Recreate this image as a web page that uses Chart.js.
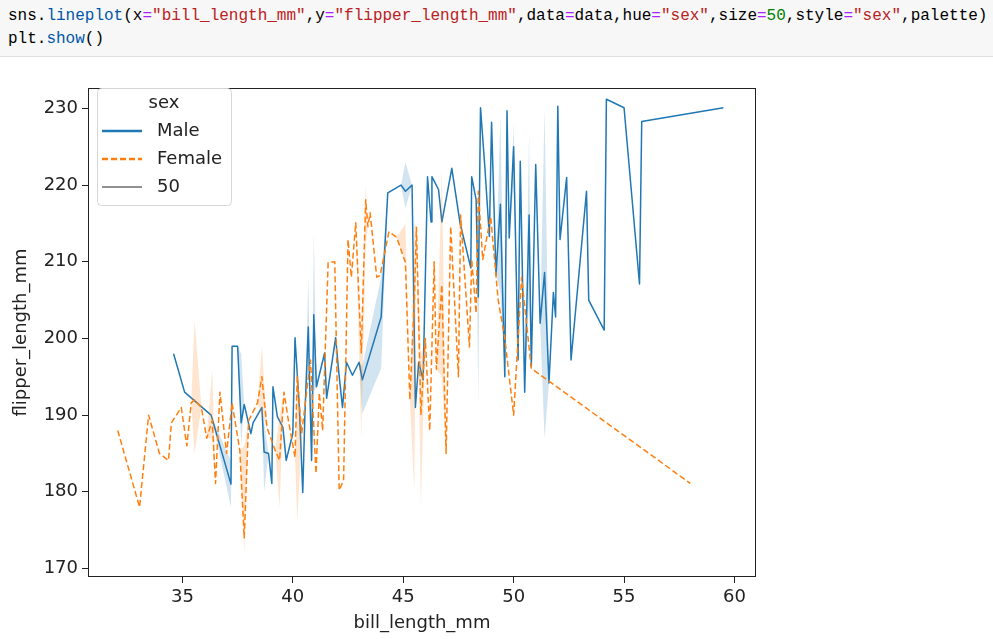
<!DOCTYPE html>
<html><head><meta charset="utf-8">
<script src="https://cdn.jsdelivr.net/npm/chart.js@4.4.1/dist/chart.umd.min.js"></script>
<style>
html,body{margin:0;padding:0;background:#fff;}
#wrap{position:relative;width:993px;height:639px;overflow:hidden;background:#fff;}
#code{position:absolute;left:0;top:0;width:993px;height:57px;background:#f7f7f7;border-bottom:1px solid #e0e0e0;box-sizing:border-box;padding:5px 0 0 8px;font-family:"Liberation Mono","DejaVu Sans Mono",monospace;font-size:16px;line-height:23px;white-space:pre;color:#000;z-index:2;}
.p{color:#0055aa}.o{color:#aa22ff}.s{color:#ba2121}.n{color:#008000}
#c{position:absolute;left:0;top:0;}
</style></head><body>
<div id="wrap">
<div id="code">sns.<span class="p">lineplot</span>(x<span class="o">=</span><span class="s">"bill_length_mm"</span>,y<span class="o">=</span><span class="s">"flipper_length_mm"</span>,data<span class="o">=</span>data,hue<span class="o">=</span><span class="s">"sex"</span>,size<span class="o">=</span><span class="n">50</span>,style<span class="o">=</span><span class="s">"sex"</span>,palette)
plt.<span class="p">show</span>()</div>
<canvas id="c" width="993" height="639"></canvas>
</div>
<script>
// ---- data ----
const maleX  = [34.6,35.1,36.3,37.2,37.25,37.5,37.66,37.8,38.1,38.2,38.6,38.7,38.9,39.05,39.1,39.3,39.55,39.7,40.0,40.1,40.3,40.45,40.55,40.7,40.85,40.95,41.07,41.44,41.53,41.94,42.07,42.25,42.43,42.7,43.0,43.15,44.0,44.3,44.9,45.1,45.4,45.55,45.7,45.9,46.1,46.26,46.3,46.6,46.75,47.2,47.57,48.06,48.1,48.3,48.4,48.5,48.7,48.9,49.0,49.2,49.4,49.6,49.7,49.8,50.0,50.2,50.3,50.5,50.7,50.8,51.0,51.2,51.4,51.6,51.8,51.9,52.0,52.1,52.4,52.6,53.3,53.4,54.1,54.2,55.0,55.7,55.8,59.5];
const maleY  = [198,193,190,181,199,199,189,191.4,187.6,189,191,185.2,185,181.1,193.7,189.8,188.4,184.1,187.6,200.1,190.7,179.9,190.3,201.5,184.1,203.1,193.7,198.1,192.2,200.1,195.9,191,196.9,195.2,196.9,194.6,202.8,219,220,219.2,220,191,196.9,194.6,221.1,215.2,221.1,219.4,215.2,222.2,215.1,209.2,221.1,218.1,205.4,230.1,222.2,213.3,228.2,208.3,217.5,195,229.7,213.1,225,197.2,223.1,193,216.1,196.3,222.7,202,208.6,194.2,206,202.8,230.3,212.9,221,197.2,219.2,205,201.1,231.2,230.1,207.1,228.3,230.1];
const maleLo = [198,193,190,178,199,199,186,191.4,187.6,189,191,180,185,181.1,193.7,189.8,188.4,184.1,187.6,200.1,190.7,179.9,190.3,196,184.1,193,193.7,198.1,192.2,200.1,195.9,191,196.9,195.2,196.9,190.2,196.1,219,220,217,220,191,196.9,194.6,221.1,215.2,221.1,219.4,215.2,222.2,215.1,209.2,221.1,218.1,191,230.1,222.2,213.3,228.2,208.3,206,195,229.7,213.1,220,197.2,223.1,193,205,196.3,222.7,202,187,194.2,206,202.8,230.3,212.9,221,197.2,219.2,205,201.1,231.2,230.1,207.1,228.3,230.1];
const maleHi = [198,193,190,184,199,199,198,191.4,187.6,189,191,189,185,181.1,193.7,189.8,188.4,184.1,187.6,200.1,190.7,179.9,190.3,208,184.1,214,193.7,198.1,192.2,200.1,195.9,191,196.9,195.2,196.9,196.4,208,219,220,223,220,191,196.9,194.6,221.1,215.2,221.1,219.4,215.2,222.2,215.1,209.2,221.1,218.1,214,230.1,222.2,213.3,228.2,208.3,229,195,229.7,213.1,228,197.2,223.1,193,227,196.3,222.7,202,230,194.2,206,202.8,230.3,212.9,221,197.2,219.2,205,201.1,231.2,230.1,207.1,228.3,230.1];

const femaleX  = [32.07,33.06,33.47,33.96,34.37,34.5,34.95,35.2,35.4,35.55,35.86,36.1,36.35,36.5,36.7,37.0,37.25,37.6,37.8,38.0,38.4,38.6,38.83,39.2,39.4,39.6,39.8,40.1,40.2,40.4,40.8,41.05,41.2,41.35,41.6,41.9,42.1,42.3,42.5,42.65,42.85,43.1,43.3,43.4,43.5,43.8,43.95,44.35,44.7,45.1,45.3,45.5,45.6,45.8,46.0,46.2,46.4,46.5,46.75,46.94,47.15,47.5,47.6,48.0,48.1,48.3,48.4,48.6,48.96,49.3,49.6,50.0,50.36,50.8,58.0];
const femaleY  = [188,178,190,185,184.1,189,191,186,191.6,192,191,187,189.3,181.1,193,185,191.6,185.4,174,189.3,191.6,195,188.4,185.4,184.1,193,189.3,184.5,195,187.6,197.2,182.4,192.9,188,209.9,210,180.2,181.5,212.9,208,215.1,198.1,218.1,214.6,216.4,208,208.2,213.9,213.2,209.9,192,205,214.5,190,200,188,210,196,207,185,214.6,195,216.1,198.9,210.3,203.3,219.2,210.3,215.9,205,200,190,208,196.1,181.1];
const femaleLo = [188,178,190,185,184.1,189,191,186,191.6,185,191,187,187,181.1,193,185,191.6,185.4,172,189.3,191.6,190,188.4,185.4,178,193,189.3,184.5,176,187.6,197.2,182.4,192.9,188,209.9,210,180.2,181.5,212.9,208,215.1,187,212,214.6,216.4,208,208.2,213.9,213.2,209.9,192,180,214.5,178,200,188,210,196,195,185,214.6,195,216.1,198.9,210.3,203.3,219.2,210.3,215.9,205,200,190,208,196.1,181.1];
const femaleHi = [188,178,190,185,184.1,189,191,186,191.6,202.4,191,187,196,181.1,193,185,191.6,185.4,186,189.3,191.6,199,188.4,185.4,190,193,189.3,184.5,197,187.6,197.2,182.4,192.9,188,209.9,210,180.2,181.5,212.9,208,215.1,200,220,214.6,216.4,208,208.2,213.9,213.2,215,192,215,214.5,198,200,188,210,196,222,185,214.6,195,216.1,198.9,210.3,203.3,219.2,210.3,215.9,205,200,190,208,196.1,181.1];

const xTicks = [35,40,45,50,55,60];
const yTicks = [170,180,190,200,210,220,230];
const xTitle = 'bill_length_mm';
const yTitle = 'flipper_length_mm';
const legendTitle = 'sex';
const legendLabels = ['Male','Female','50'];

// ---- chart ----
const BLUE = '#1f77b4', ORANGE = '#ff7f0e';
const FONT = 'DejaVu Sans';
const pts = (xs, ys) => xs.map((x, i) => ({x: x, y: ys[i]}));

const framePlugin = {
  id: 'frame',
  afterDraw(chart) {
    const {ctx, chartArea: a} = chart;
    ctx.save();
    ctx.strokeStyle = '#222';
    ctx.lineWidth = 1;
    ctx.strokeRect(a.left + 0.5, a.top + 0.5, a.right - a.left - 1, a.bottom - a.top - 1);
    ctx.restore();
  }
};

const legendPlugin = {
  id: 'seabornLegend',
  afterDraw(chart) {
    const ctx = chart.ctx;
    ctx.save();
    const x0 = 97.5, y0 = 88.5, w = 134, h = 117, r = 4;
    ctx.beginPath();
    ctx.moveTo(x0 + r, y0);
    ctx.arcTo(x0 + w, y0, x0 + w, y0 + h, r);
    ctx.arcTo(x0 + w, y0 + h, x0, y0 + h, r);
    ctx.arcTo(x0, y0 + h, x0, y0, r);
    ctx.arcTo(x0, y0, x0 + w, y0, r);
    ctx.closePath();
    ctx.fillStyle = 'rgba(255,255,255,0.8)';
    ctx.fill();
    ctx.strokeStyle = '#d6d6d6';
    ctx.lineWidth = 1;
    ctx.stroke();
    ctx.fillStyle = '#222';
    ctx.font = '18px "' + FONT + '"';
    ctx.textBaseline = 'middle';
    ctx.textAlign = 'center';
    ctx.fillText(legendTitle, 164, 103);
    ctx.textAlign = 'left';
    const rows = [
      {y: 131, color: BLUE, width: 2.5, dash: []},
      {y: 159, color: ORANGE, width: 2.5, dash: [6, 3]},
      {y: 187, color: '#222', width: 1, dash: []}
    ];
    rows.forEach((rw, i) => {
      ctx.beginPath();
      ctx.setLineDash(rw.dash);
      ctx.strokeStyle = rw.color;
      ctx.lineWidth = rw.width;
      ctx.moveTo(102, rw.y);
      ctx.lineTo(142, rw.y);
      ctx.stroke();
      ctx.setLineDash([]);
      ctx.fillStyle = '#222';
      ctx.fillText(legendLabels[i], 157, rw.y);
    });
    ctx.restore();
  }
};

new Chart(document.getElementById('c'), {
  type: 'line',
  data: {
    datasets: [
      {label: 'male_ci_lo', data: pts(maleX, maleLo), borderWidth: 0, pointRadius: 0, fill: false, order: 4, borderColor: 'rgba(0,0,0,0)'},
      {label: 'male_ci_hi', data: pts(maleX, maleHi), borderWidth: 0, pointRadius: 0, fill: '-1', backgroundColor: 'rgba(31,119,180,0.2)', order: 4, borderColor: 'rgba(0,0,0,0)'},
      {label: 'Male', data: pts(maleX, maleY), borderColor: BLUE, borderWidth: 1.5, pointRadius: 0, fill: false, order: 3},
      {label: 'female_ci_lo', data: pts(femaleX, femaleLo), borderWidth: 0, pointRadius: 0, fill: false, order: 2, borderColor: 'rgba(0,0,0,0)'},
      {label: 'female_ci_hi', data: pts(femaleX, femaleHi), borderWidth: 0, pointRadius: 0, fill: '-1', backgroundColor: 'rgba(255,127,14,0.2)', order: 2, borderColor: 'rgba(0,0,0,0)'},
      {label: 'Female', data: pts(femaleX, femaleY), borderColor: ORANGE, borderWidth: 1.5, borderDash: [6, 3], pointRadius: 0, fill: false, order: 1}
    ]
  },
  options: {
    responsive: false,
    animation: false,
    events: [],
    layout: {padding: {left: 0, top: 88, right: 237, bottom: 0}},
    elements: {line: {tension: 0, borderJoinStyle: 'round'}},
    plugins: {legend: {display: false}, tooltip: {enabled: false}},
    scales: {
      x: {
        type: 'linear', min: 30.725, max: 60.975,
        afterBuildTicks: s => { s.ticks = xTicks.map(v => ({value: v})); },
        afterFit: s => { s.height = 62; },
        ticks: {font: {family: FONT, size: 18}, color: '#222', padding: 4, maxRotation: 0, autoSkip: false},
        grid: {drawOnChartArea: false, drawTicks: true, tickLength: 6, color: '#222', lineWidth: 1},
        border: {display: false},
        title: {display: true, text: xTitle, font: {family: FONT, size: 18}, color: '#222', padding: {top: 0, bottom: 5}}
      },
      y: {
        type: 'linear', min: 168.89, max: 232.67,
        afterBuildTicks: s => { s.ticks = yTicks.map(v => ({value: v})); },
        afterFit: s => { s.width = 88; },
        ticks: {font: {family: FONT, size: 18}, color: '#222', padding: 4, autoSkip: false},
        grid: {drawOnChartArea: false, drawTicks: true, tickLength: 6, color: '#222', lineWidth: 1},
        border: {display: false},
        title: {display: true, text: yTitle, font: {family: FONT, size: 18}, color: '#222', padding: {top: 11, bottom: 0}}
      }
    }
  },
  plugins: [framePlugin, legendPlugin]
});
</script>
</body></html>
